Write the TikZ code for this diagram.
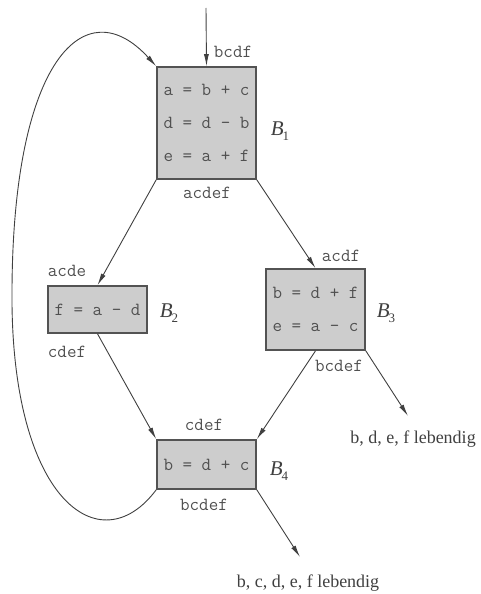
\documentclass[tikz,border=0pt]{standalone}
\usepackage{fontspec}
\setmainfont{Liberation Serif}
\usetikzlibrary{arrows.meta}
\definecolor{ink}{HTML}{404040}
\definecolor{txt}{HTML}{505050}
\definecolor{boxfill}{HTML}{CDCDCD}
\tikzset{
  blk/.style={draw=ink!90, line width=1.6pt, fill=boxfill, rectangle, inner sep=0pt,
    minimum width=99pt, align=center, text=txt, font=\ttfamily\fontsize{18.5}{33}\selectfont},
  lv/.style={text=txt, font=\ttfamily\fontsize{18.5}{20}\selectfont, inner sep=0pt},
  bl/.style={text=ink, font=\fontsize{21}{22}\selectfont\itshape, inner sep=0pt},
  outl/.style={text=ink, font=\fontsize{18}{20}\selectfont, inner sep=0pt},
  edge/.style={draw=ink, line width=0.9pt, -{Latex[length=12pt,width=5pt]}}
}
\begin{document}
\begin{tikzpicture}[x=1pt,y=-1pt]
\useasboundingbox (0,0) rectangle (480,594);
\node[blk, minimum height=112pt] (B1) at (206.5,123) {a = b + c\\d = d - b\\e = a + f};
\node[blk, minimum height=47pt] (B2) at (97.5,309.5) {f = a - d};
\node[blk, minimum height=81pt] (B3) at (315.5,309.5) {b = d + f\\e = a - c};
\node[blk, minimum height=49pt] (B4) at (206.5,464.5) {b = d + c};

\node[bl] (n1) at (280,131) {B\kern-1pt\raisebox{-5pt}{\upshape\fontsize{13}{14}\selectfont 1}};
\node[bl] (n2) at (169,313) {B\kern-1pt\raisebox{-5pt}{\upshape\fontsize{13}{14}\selectfont 2}};
\node[bl] (n3) at (386,313) {B\kern-1pt\raisebox{-5pt}{\upshape\fontsize{13}{14}\selectfont 3}};
\node[bl] (n4) at (279,471) {B\kern-1pt\raisebox{-5pt}{\upshape\fontsize{13}{14}\selectfont 4}};

\node[lv] (l1in) at (233,52) {bcdf};
\node[lv] (l1out) at (207,193) {acdef};
\node[lv] (l2in) at (67,271) {acde};
\node[lv] (l2out) at (67,352) {cdef};
\node[lv] (l3in) at (341,256) {acdf};
\node[lv] (l3out) at (339,366) {bcdef};
\node[lv] (l4in) at (204,425) {cdef};
\node[lv] (l4out) at (204,505) {bcdef};

\node[outl] (o3) at (413,439) {b, d, e, f lebendig};
\node[outl] (o4) at (308,583) {b, c, d, e, f lebendig};

\coordinate (start) at (206,8);
\coordinate (t3) at (408,416);
\coordinate (t4) at (300,557);
\coordinate (loopleft) at (12,290);

\draw[edge] (start) -- (B1.north);
\draw[edge] (B1.south west) -- (B2.north);
\draw[edge] (B1.south east) -- (B3.north);
\draw[edge] (B2.south) -- (B4.north west);
\draw[edge] (B3.south) -- (B4.north east);
\draw[edge] (B3.south east) -- (t3);
\draw[edge] (B4.south east) -- (t4);
\draw[edge] (B4.south west) .. controls (100,565) and (10,500) .. (loopleft)
  .. controls (13,60) and (85,-12) .. (B1.north west);
\end{tikzpicture}
\end{document}
